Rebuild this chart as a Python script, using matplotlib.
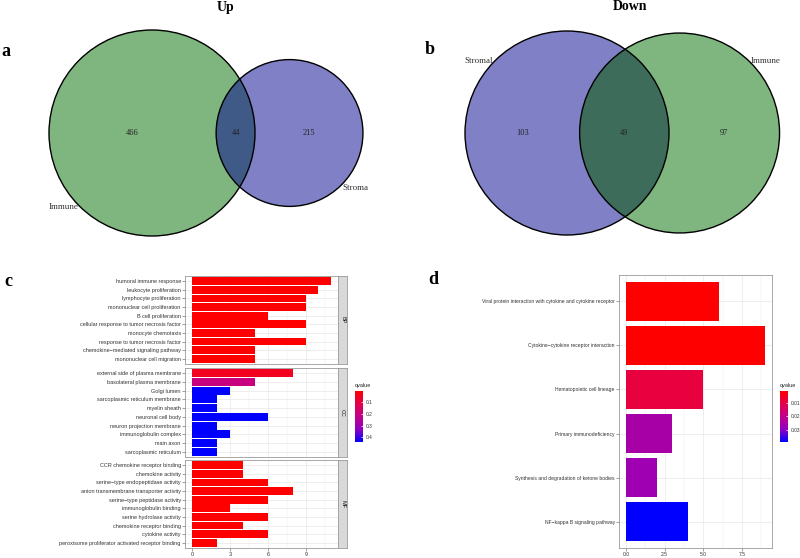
import numpy as np
import matplotlib.pyplot as plt
from matplotlib.patches import Circle, Rectangle
from matplotlib.colors import LinearSegmentedColormap, Normalize
from matplotlib.cm import ScalarMappable

W, H = 800, 558

# ---- data ----
up_names = ["Immune", "Stroma"]
up_counts = [466, 44, 215]          # only first, both, only second
down_names = ["Stromal", "Immune"]
down_counts = [103, 49, 97]

bp_terms = ["humoral immune response", "leukocyte proliferation", "lymphocyte proliferation",
            "mononuclear cell proliferation", "B cell proliferation",
            "cellular response to tumor necrosis factor", "monocyte chemotaxis",
            "response to tumor necrosis factor", "chemokine\u2212mediated signaling pathway",
            "mononuclear cell migration"]
bp_counts = [11, 10, 9, 9, 6, 9, 5, 9, 5, 5]
bp_q = [0.002, 0.002, 0.002, 0.002, 0.002, 0.002, 0.002, 0.002, 0.002, 0.002]

cc_terms = ["external side of plasma membrane", "basolateral plasma membrane", "Golgi lumen",
            "sarcoplasmic reticulum membrane", "myelin sheath", "neuronal cell body",
            "neuron projection membrane", "immunoglobulin complex", "main axon",
            "sarcoplasmic reticulum"]
cc_counts = [8, 5, 3, 2, 2, 6, 2, 3, 2, 2]
cc_q = [0.05, 0.2, 0.44, 0.44, 0.44, 0.44, 0.44, 0.44, 0.44, 0.44]

mf_terms = ["CCR chemokine receptor binding", "chemokine activity",
            "serine\u2212type endopeptidase activity", "anion transmembrane transporter activity",
            "serine\u2212type peptidase activity", "immunoglobulin binding",
            "serine hydrolase activity", "chemokine receptor binding", "cytokine activity",
            "peroxisome proliferator activated receptor binding"]
mf_counts = [4, 4, 6, 8, 6, 3, 6, 4, 6, 2]
mf_q = [0.002, 0.002, 0.002, 0.002, 0.002, 0.002, 0.002, 0.002, 0.002, 0.002]

kegg_terms = ["Viral protein interaction with cytokine and cytokine receptor",
              "Cytokine\u2212cytokine receptor interaction", "Hematopoietic cell lineage",
              "Primary immunodeficiency", "Synthesis and degradation of ketone bodies",
              "NF\u2212kappa B signaling pathway"]
kegg_counts = [6, 9, 5, 3, 2, 4]
kegg_q = [0.0012, 0.0011, 0.009, 0.025, 0.027, 0.039]

cmap = LinearSegmentedColormap.from_list("rb", ["#FF0000", "#E3004C", "#C2008C", "#9000C0", "#0000FF"])
GRID = "#EBEBEB"
BORDER = "#9A9A9A"
SANS = "Liberation Sans"
SERIF = "Liberation Serif"

fig = plt.figure(figsize=(W / 100, H / 100), dpi=100)
fig.set_facecolor("white")


def px_axes(x0, y0, x1, y1):
    return fig.add_axes([x0 / W, 1 - y1 / H, (x1 - x0) / W, (y1 - y0) / H])


def ftext(x, y, s, **kw):
    fig.text(x / W, 1 - y / H, s, **kw)


def lens_area(r1, r2, d):
    a1 = r1 ** 2 * np.arccos((d ** 2 + r1 ** 2 - r2 ** 2) / (2 * d * r1))
    a2 = r2 ** 2 * np.arccos((d ** 2 + r2 ** 2 - r1 ** 2) / (2 * d * r2))
    a3 = 0.5 * np.sqrt((-d + r1 + r2) * (d + r1 - r2) * (d - r1 + r2) * (d + r1 + r2))
    return a1 + a2 - a3


def venn(ax, counts, names, c1, c2, cov, cx, cy, rmax, angles):
    n1 = counts[0] + counts[1]
    n2 = counts[1] + counts[2]
    k = rmax / np.sqrt(max(n1, n2))
    r1, r2 = k * np.sqrt(n1), k * np.sqrt(n2)
    target = np.pi * k ** 2 * counts[1]
    lo, hi = abs(r1 - r2) + 1e-6, r1 + r2 - 1e-6
    for _ in range(60):
        mid = (lo + hi) / 2
        if lens_area(r1, r2, mid) > target:
            lo = mid
        else:
            hi = mid
    d = (lo + hi) / 2
    x2 = cx + d
    p1 = Circle((cx, cy), r1, fc=c1, ec="none", zorder=1)
    p2 = Circle((x2, cy), r2, fc=c2, ec="none", zorder=1)
    ax.add_patch(p1)
    ax.add_patch(p2)
    ov = Circle((x2, cy), r2, fc=cov, ec="none", zorder=2)
    ax.add_patch(ov)
    ov.set_clip_path(p1)
    ax.add_patch(Circle((cx, cy), r1, fill=False, ec="black", lw=1.0, zorder=3))
    ax.add_patch(Circle((x2, cy), r2, fill=False, ec="black", lw=1.0, zorder=3))
    xs = [((cx - r1) + (x2 - r2)) / 2, ((x2 - r2) + (cx + r1)) / 2, ((cx + r1) + (x2 + r2)) / 2]
    for x, c in zip(xs, counts):
        ax.text(x, cy, str(c), ha="center", va="center", fontsize=6, family=SERIF,
                color="#222222", zorder=4)
    for (px, r), nm, ang in zip([(cx, r1), (x2, r2)], names, angles):
        a = np.deg2rad(ang)
        ax.text(px + (r + 12) * np.cos(a), cy + (r + 12) * np.sin(a), nm, ha="center",
                va="center", fontsize=6.5, family=SERIF, color="#333333", zorder=4)
    ax.set_xlim(0, 400)
    ax.set_ylim(240, 0)
    ax.axis("off")


ax_a = px_axes(0, 0, 400, 240)
venn(ax_a, up_counts, up_names, "#7FB57F", "#8080C6", "#3F5A86", 152, 133, 103, [140, 40])
ax_b = px_axes(400, 0, 800, 240)
venn(ax_b, down_counts, down_names, "#8080C6", "#7FB57F", "#3D6C5A", 167, 133, 102, [-141, -40])

ftext(226, 8, "Up", ha="center", va="center", fontsize=10, fontweight="bold", family=SERIF)
ftext(630, 7, "Down", ha="center", va="center", fontsize=10, fontweight="bold", family=SERIF)
for x, y, s in [(6, 52, "a"), (430, 50, "b"), (8, 281, "c"), (433, 280, "d")]:
    ftext(x, y, s, ha="center", va="center", fontsize=13, fontweight="bold", family=SERIF)


def style_bar_axes(ax, major, minor, n, label_size):
    ax.set_facecolor("white")
    ax.set_xticks(major)
    ax.set_xticks(minor, minor=True)
    ax.set_yticks(np.arange(n))
    ax.grid(True, which="major", color=GRID, lw=0.6, zorder=0)
    ax.grid(True, which="minor", axis="x", color=GRID, lw=0.3, zorder=0)
    ax.set_axisbelow(True)
    for s in ax.spines.values():
        s.set_color(BORDER)
        s.set_linewidth(0.6)
    ax.tick_params(axis="both", which="major", length=2, width=0.4, color="#555555",
                   labelsize=label_size, pad=1, labelcolor="#333333")
    ax.tick_params(axis="x", which="minor", length=0)
    for t in ax.get_yticklabels():
        t.set_family(SANS)


# ---- panel c ----
all_q = bp_q + cc_q + mf_q
norm_c = Normalize(min(all_q), max(all_q))
facets = [(bp_terms, bp_counts, bp_q, "BP", 276, 364),
          (cc_terms, cc_counts, cc_q, "CC", 368, 457),
          (mf_terms, mf_counts, mf_q, "MF", 460, 548)]
xmax_c = max(bp_counts + cc_counts + mf_counts)
for i, (terms, counts, q, strip, y0, y1) in enumerate(facets):
    ax = px_axes(185, y0, 338, y1)
    n = len(terms)
    pos = np.arange(n)[::-1]
    ax.barh(pos, counts, height=0.9, color=cmap(norm_c(np.array(q))), zorder=2)
    ax.set_xlim(-0.05 * xmax_c, xmax_c * 1.05)
    ax.set_ylim(-0.6, n - 0.4)
    style_bar_axes(ax, [0, 3, 6, 9], [1.5, 4.5, 7.5, 10.5], n, 4)
    ax.set_yticklabels(terms[::-1])
    for t in ax.get_yticklabels():
        t.set_family(SANS)
    if i < 2:
        ax.tick_params(axis="x", which="major", length=0, labelbottom=False)
    else:
        for t in ax.get_xticklabels():
            t.set_family(SANS)
    sax = px_axes(338, y0, 347, y1)
    sax.set_facecolor("#D9D9D9")
    sax.set_xticks([])
    sax.set_yticks([])
    for s in sax.spines.values():
        s.set_color(BORDER)
        s.set_linewidth(0.6)
    sax.text(0.5, 0.5, strip, rotation=-90, ha="center", va="center", fontsize=4,
             family=SANS, color="#1A1A1A", transform=sax.transAxes)


def qbar(x0, y0, x1, y1, norm, ticks, labels):
    cax = px_axes(x0, y0, x1, y1)
    cb = fig.colorbar(ScalarMappable(norm=norm, cmap=cmap), cax=cax)
    cb.outline.set_visible(False)
    cb.set_ticks(ticks)
    cb.set_ticklabels(labels)
    cax.invert_yaxis()
    cax.tick_params(axis="y", length=1.5, width=0.5, color="white", direction="in",
                    labelcolor="#333333", labelsize=3.5, pad=2)
    for t in cax.get_yticklabels():
        t.set_family(SANS)
    ftext(x0, y0 - 6, "qvalue", ha="left", va="center", fontsize=4, family=SANS, color="#222222")


qbar(355, 391, 363, 442, norm_c, [0.1, 0.2, 0.3, 0.4], ["0.1", "0.2", "0.3", "0.4"])

# ---- panel d ----
ax_d = px_axes(619, 275, 772, 548)
nk = len(kegg_terms)
norm_d = Normalize(min(kegg_q), max(kegg_q))
ax_d.barh(np.arange(nk)[::-1], kegg_counts, height=0.9, color=cmap(norm_d(np.array(kegg_q))), zorder=2)
xmax_d = max(kegg_counts)
ax_d.set_xlim(-0.05 * xmax_d, xmax_d * 1.05)
ax_d.set_ylim(-0.6, nk - 0.4)
style_bar_axes(ax_d, [0, 2.5, 5, 7.5], [1.25, 3.75, 6.25, 8.75], nk, 3.6)
ax_d.set_xticklabels(["0.0", "2.5", "5.0", "7.5"])
ax_d.set_yticklabels(kegg_terms[::-1])
for t in ax_d.get_yticklabels() + ax_d.get_xticklabels():
    t.set_family(SANS)

qbar(780, 391, 788, 442, norm_d, [0.01, 0.02, 0.03], ["0.01", "0.02", "0.03"])

plt.savefig("out.png", dpi=100, facecolor="white")
